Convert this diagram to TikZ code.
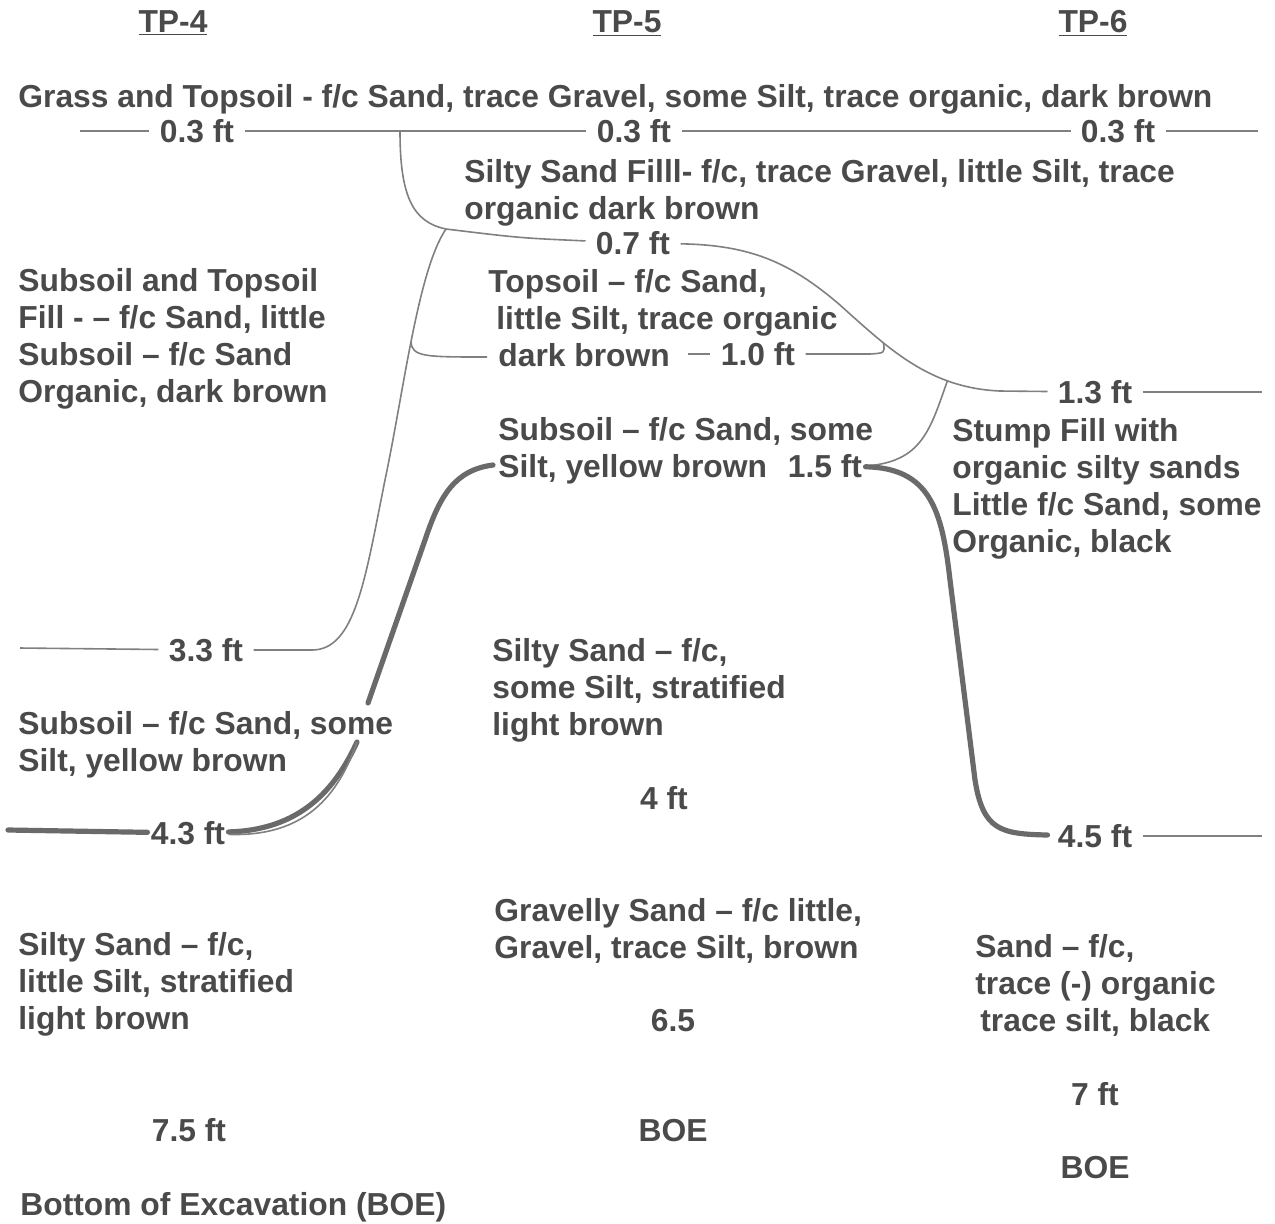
\documentclass[tikz,border=0pt]{standalone}
\usepackage{fontspec}
\setmainfont{Liberation Sans}
\definecolor{txtgray}{HTML}{4A4A4A}
\definecolor{lngray}{HTML}{808080}
\definecolor{hvgray}{HTML}{6A6A6A}

\begin{document}
\begin{tikzpicture}[x=0.5pt,y=-0.5pt,
    every node/.style={font=\fontsize{15.9}{18.5}\selectfont\bfseries, text=txtgray},
    desc/.style={anchor=north west, align=left, inner sep=0pt},
    depth/.style={inner sep=5pt},
    bound/.style={draw=lngray, line width=0.8pt},
    heavy/.style={draw=hvgray, line width=2.6pt, line cap=round}]

    \useasboundingbox (0,0) rectangle (1275,1223);

    % ================= HEADINGS =================
    \node[anchor=base] (tp4) at (173,32) {\underline{TP-4}};
    \node[anchor=base] (tp5) at (627,32) {\underline{TP-5}};
    \node[anchor=base] (tp6) at (1093,32) {\underline{TP-6}};

    % ================= TEXTS =================
    \node[desc] (grass) at (18,84) {Grass and Topsoil - f/c Sand, trace Gravel, some Silt, trace organic, dark brown};
    \node[desc] (fill5) at (464,159) {Silty Sand Filll- f/c, trace Gravel, little Silt, trace\\organic dark brown};
    \node[desc] (fill4) at (18,268) {Subsoil and Topsoil\\Fill - – f/c Sand, little\\Subsoil – f/c Sand\\Organic, dark brown};
    \node[desc] (top5) at (488,269) {Topsoil – f/c Sand,\\\hspace*{4pt}little Silt, trace organic\\\hspace*{5pt}dark brown};
    \node[desc] (sub5) at (498,417) {Subsoil – f/c Sand, some\\Silt, yellow brown};
    \node[desc] (stump) at (952,418) {Stump Fill with\\organic silty sands\\Little f/c Sand, some\\Organic, black};
    \node[desc] (silt5) at (492,638) {Silty Sand – f/c,\\some Silt, stratified\\light brown};
    \node[desc] (sub4) at (18,711) {Subsoil – f/c Sand, some\\Silt, yellow brown};
    \node[desc] (grav5) at (494,898) {Gravelly Sand – f/c little,\\Gravel, trace Silt, brown};
    \node[desc] (silt4) at (18,932) {Silty Sand – f/c,\\little Silt, stratified\\light brown};
    \node[desc] (sand6) at (975,934) {Sand – f/c,\\trace (-) organic\\\hspace*{2.5pt}trace silt, black};
    \node[desc] (boe4) at (20,1192) {Bottom of Excavation (BOE)};

    % Depths
    \node[depth] (d41) at (197,131) {0.3 ft};
    \node[depth] (d51) at (634,131) {0.3 ft};
    \node[depth] (d61) at (1118,131) {0.3 ft};
    \node[depth] (d52) at (633,243) {0.7 ft};
    \node[depth] (d53) at (758,354) {1.0 ft};
    \node[depth] (d62) at (1095,392) {1.3 ft};
    \node[depth, inner sep=1.5pt] (d54) at (825,466) {1.5 ft};
    \node[depth] (d42) at (206,650) {3.3 ft};
    \node[depth] (d55) at (664,798) {4 ft};
    \node[depth, inner sep=1.5pt] (d43) at (188,833) {4.3 ft};
    \node[depth] (d63) at (1095,836) {4.5 ft};
    \node[depth] (d56) at (673,1021) {6.5};
    \node[depth] (d64) at (1095,1094) {7 ft};
    \node[depth] (d44) at (189,1130) {7.5 ft};
    \node[depth] (boe5) at (673,1131) {BOE};
    \node[depth] (boe6) at (1095,1168) {BOE};

    % ================= BOUNDARIES =================
    \coordinate (a0) at (80,131);
    \coordinate (a1) at (1258,131);
    \coordinate (a2) at (1262,392);
    \coordinate (a3) at (1262,836);
    \coordinate (a4) at (8,830);
    \coordinate (a5) at (20,648);
    \coordinate (k1) at (400,131);
    \coordinate (k2) at (446,229);
    \coordinate (e1) at (688,354);
    \coordinate (e2) at (487,357);
    \coordinate (s1) at (493,465);
    \coordinate (m1) at (368,703);
    \coordinate (m2) at (357,742);

    % 0.3 ft line
    \draw[bound] (a0) -- (d41) (d41) -- (d51) (d51) -- (d61) (d61) -- (a1);

    % fill / topsoil under TP-5
    \draw[bound] (k1) .. controls (400,195) and (412,222) .. (k2)
        .. controls (520,238) .. (d52);
    \draw[bound] (d52) .. controls (750,245) and (790,262) .. (840,305)
        .. controls (890,350) and (930,388) .. (1000,391)
        coordinate[pos=0.3] (j2) coordinate[pos=0.72] (j3) -- (d62);
    \draw[bound] (d62) -- (a2);
    \draw[bound] (e1) -- (d53);
    \draw[bound] (d53) -- (870,354) .. controls (885,353) .. (j2);

    % TP-4 fill bottom
    \draw[bound] (k2) .. controls (418,270) and (404,390) .. (385,480)
        coordinate[pos=0.52] (j1)
        .. controls (365,580) and (355,650) .. (312,650) -- (d42);
    \draw[bound] (a5) -- (d42);
    \draw[bound] (j1) .. controls (412,357) and (425,357) .. (e2);

    % stump fill
    \draw[bound] (j3) .. controls (930,430) and (922,462) .. (d54.east);

    % Subsoil tops (heavy)
    \draw[heavy] (s1) .. controls (455,470) and (440,495) .. (425,540) -- (m1);
    \draw[heavy] (d43) .. controls (300,830) and (335,790) .. (m2);
    \draw[bound] (d43) .. controls (305,837) and (338,796) .. (m2);
    \draw[heavy] (a4) -- (d43);
    \draw[heavy] (d54) .. controls (930,468) and (942,510) .. (950,580)
        -- (975,780) .. controls (983,830) and (1000,834) .. (d63);
    \draw[bound] (d63) -- (a3);

\end{tikzpicture}
\end{document}
